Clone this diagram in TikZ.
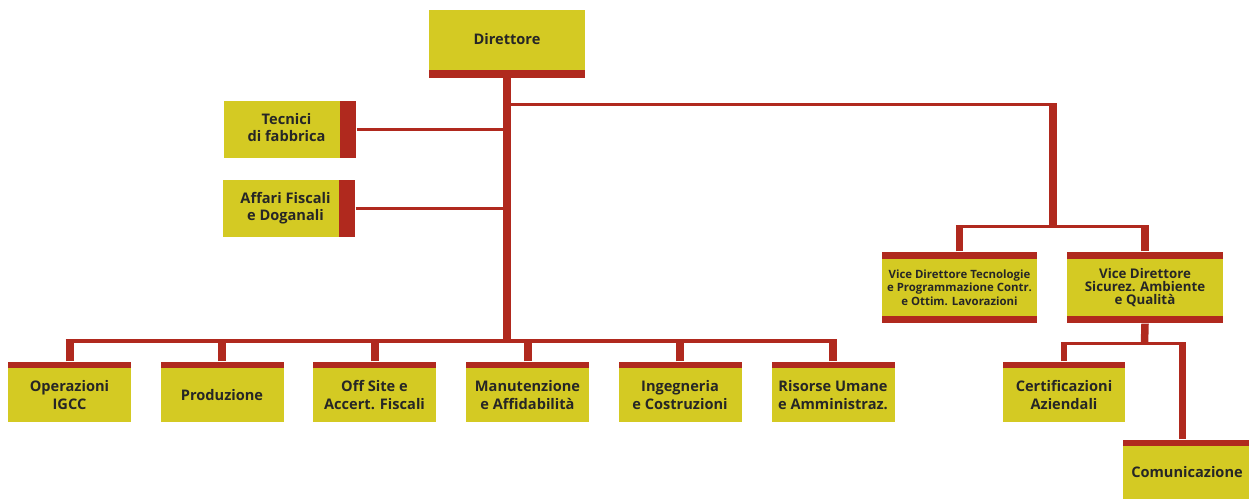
\documentclass[tikz,border=0pt]{standalone}
\usepackage{fontspec}
\setmainfont{Open Sans}
\definecolor{boxyellow}{RGB}{212,202,35}
\definecolor{barred}{RGB}{176,41,30}
\definecolor{textgray}{RGB}{38,38,38}
\tikzset{
  box/.style={fill=boxyellow, draw=none, inner sep=0pt, align=center, text=textgray,
              font=\bfseries\fontsize{14.6}{18}\selectfont},
  rbar/.style={fill=barred, draw=none, inner sep=0pt},
  thickline/.style={draw=barred, line width=8pt},
  thinline/.style={draw=barred, line width=3.5pt},
}
\newcommand{\offsetlines}[1]{\hspace*{9pt}\begin{tabular}{@{}c@{}}#1\end{tabular}}
\begin{document}
\begin{tikzpicture}[x=1pt,y=-1pt]
\useasboundingbox (0,0) rectangle (1249,499);

% Direttore
\node[box, minimum width=156pt, minimum height=60pt] (dir) at (507,39.5) {Direttore};
\node[rbar, anchor=north, minimum width=156pt, minimum height=8pt] (dirb) at (dir.south) {};

% staff boxes
\node[box, minimum width=116pt, minimum height=57pt] (tec) at (282,129.5)
  {\renewcommand{\arraystretch}{0.95}\offsetlines{Tecnici\\di fabbrica}};
\node[rbar, anchor=west, minimum width=16pt, minimum height=57pt] (tecb) at (tec.east) {};
\node[box, minimum width=116pt, minimum height=57pt] (aff) at (281,208.5)
  {\renewcommand{\arraystretch}{0.95}\offsetlines{Affari Fiscali\\e Doganali}};
\node[rbar, anchor=west, minimum width=16pt, minimum height=57pt] (affb) at (aff.east) {};

% bottom row
\foreach \n/\x/\t in {op/69.5/{Operazioni\\IGCC}, pr/222/{Produzione}, os/374.5/{Off Site e\\Accert. Fiscali},
                     ma/527.5/{Manutenzione\\e Affidabilità}, in/680/{Ingegneria\\e Costruzioni},
                     ri/833/{Risorse Umane\\e Amministraz.}}{
  \node[box, minimum width=123pt, minimum height=54pt] (\n) at (\x,395) {\t};
  \node[rbar, anchor=south, minimum width=123pt, minimum height=6pt] (\n b) at (\n.north) {};
}

% vice directors
\node[box, minimum width=155pt, minimum height=57pt, font=\bfseries\fontsize{11.4}{13.5}\selectfont]
  (vda) at (959.5,287.5) {Vice Direttore Tecnologie\\e Programmazione Contr.\\e Ottim. Lavorazioni};
\node[rbar, anchor=south, minimum width=155pt, minimum height=7pt] (vdat) at (vda.north) {};
\node[rbar, anchor=north, minimum width=155pt, minimum height=7pt] (vdab) at (vda.south) {};
\node[box, minimum width=156pt, minimum height=57pt, font=\bfseries\fontsize{13.3}{13}\selectfont]
  (vdb) at (1145,287.5) {Vice Direttore\\Sicurez. Ambiente\\e Qualità};
\node[rbar, anchor=south, minimum width=156pt, minimum height=7pt] (vdbt) at (vdb.north) {};
\node[rbar, anchor=north, minimum width=156pt, minimum height=7pt] (vdbb) at (vdb.south) {};

% lower right
\node[box, minimum width=122pt, minimum height=54pt] (cer) at (1064,395) {Certificazioni\\Aziendali};
\node[rbar, anchor=south, minimum width=122pt, minimum height=6pt] (cerb) at (cer.north) {};
\node[box, minimum width=128pt, minimum height=53pt] (com) at (1187,472.5) {Comunicazione};
\node[rbar, anchor=south, minimum width=128pt, minimum height=6pt] (comb) at (com.north) {};

% junction coordinates
\coordinate (jb) at (507,341);
\coordinate (rt) at (1053,104.7);
\coordinate (vj) at (1053,226.5);
\coordinate (cj) at (1144.5,343.5);
\coordinate (cr) at (1182.5,343.5);

% trunk and bottom bar
\draw[thickline] (dirb.south) -- (dirb.south |- jb);
\draw[thinline] ([xshift=-4pt]opb.north |- jb) -- ([xshift=4pt]rib.north |- jb);
\foreach \n in {op,pr,os,ma,in,ri}{
  \draw[thickline] (\n b.north) -- (\n b.north |- jb);
}

% staff connectors
\draw[thinline] (tecb.east) -- (tecb.east -| dirb.south);
\draw[thinline] (affb.east) -- (affb.east -| dirb.south);

% right branch
\draw[draw=barred, line width=3pt] (dirb.south |- rt) -- ([xshift=4pt]rt);
\draw[thickline] ([yshift=1.5pt]rt) -- (vj);
\draw[thinline] ([xshift=-3.75pt]vdat.north |- vj) -- ([xshift=3.75pt]vdbt.north |- vj);
\draw[draw=barred, line width=7.5pt] (vdat.north) -- (vdat.north |- vj);
\draw[draw=barred, line width=7.5pt] (vdbt.north) -- (vdbt.north |- vj);

% lower right connectors
\draw[draw=barred, line width=7.5pt] (vdbb.south) -- (cj);
\draw[thinline] ([xshift=-3.25pt]cerb.north |- cj) -- ([xshift=3.5pt]cr);
\draw[draw=barred, line width=6.5pt] (cerb.north) -- (cerb.north |- cj);
\draw[draw=barred, line width=7pt] (cr) -- (cr |- comb.north);
\end{tikzpicture}
\end{document}
